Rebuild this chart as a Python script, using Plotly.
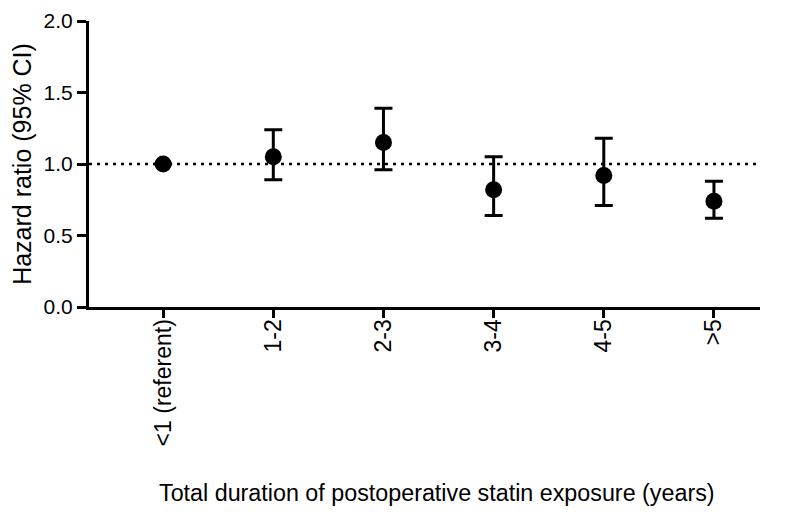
import plotly.graph_objects as go

categories = ["<1 (referent)", "1-2", "2-3", "3-4", "4-5", ">5"]
hazard_ratio = [1.00, 1.05, 1.15, 0.82, 0.92, 0.74]
ci_lower = [1.00, 0.89, 0.96, 0.64, 0.71, 0.62]
ci_upper = [1.00, 1.24, 1.39, 1.05, 1.18, 0.88]
reference_hr = 1.0
x_title = "Total duration of postoperative statin exposure (years)"
y_title = "Hazard ratio (95% CI)"

x_pos = list(range(len(categories)))
err_plus = [u - h for u, h in zip(ci_upper, hazard_ratio)]
err_minus = [h - l for h, l in zip(hazard_ratio, ci_lower)]

font_family = "Liberation Sans, Arial, sans-serif"

fig = go.Figure()

# dotted reference line at HR = 1
fig.add_shape(type="line", xref="paper", yref="y", x0=0, x1=1,
              y0=reference_hr, y1=reference_hr,
              line=dict(color="black", width=2.5, dash="3px,5px"), layer="below")

fig.add_trace(go.Scatter(
    x=x_pos, y=hazard_ratio,
    mode="markers",
    marker=dict(color="black", size=17, symbol="circle"),
    error_y=dict(type="data", symmetric=False, array=err_plus, arrayminus=err_minus,
                 color="black", thickness=3, width=9),
    showlegend=False,
))

# x title as annotation: it sits a little right of the plot centre in the original
fig.add_annotation(text=x_title, xref="paper", yref="paper", x=0.518, y=-0.65,
                   xanchor="center", yanchor="middle", showarrow=False,
                   font=dict(size=23.3))

# page body has an 8px margin, so the figure is 8px smaller
fig.update_layout(
    width=792, height=508,
    margin=dict(l=81, r=40, t=13, b=209),
    plot_bgcolor="white", paper_bgcolor="white",
    font=dict(family=font_family, color="black", size=21),
)

fig.update_xaxes(
    range=[-0.673, 5.418], automargin=False,
    tickmode="array", tickvals=x_pos, ticktext=categories,
    tickangle=-90, tickfont=dict(size=23), ticklabelstandoff=-8,
    showline=True, linecolor="black", linewidth=3,
    ticks="outside", ticklen=8, tickwidth=2.5, tickcolor="black",
    showgrid=False, zeroline=False,
)
fig.update_yaxes(
    range=[0, 2.0], automargin=False,
    tickvals=[0, 0.5, 1.0, 1.5, 2.0], ticktext=["0.0", "0.5", "1.0", "1.5", "2.0"],
    tickfont=dict(size=21),
    showline=True, linecolor="black", linewidth=3,
    ticks="outside", ticklen=9, tickwidth=2.5, tickcolor="black",
    showgrid=False, zeroline=False,
    title=dict(text=y_title, font=dict(size=25), standoff=11),
)

fig.write_html("out.html")
